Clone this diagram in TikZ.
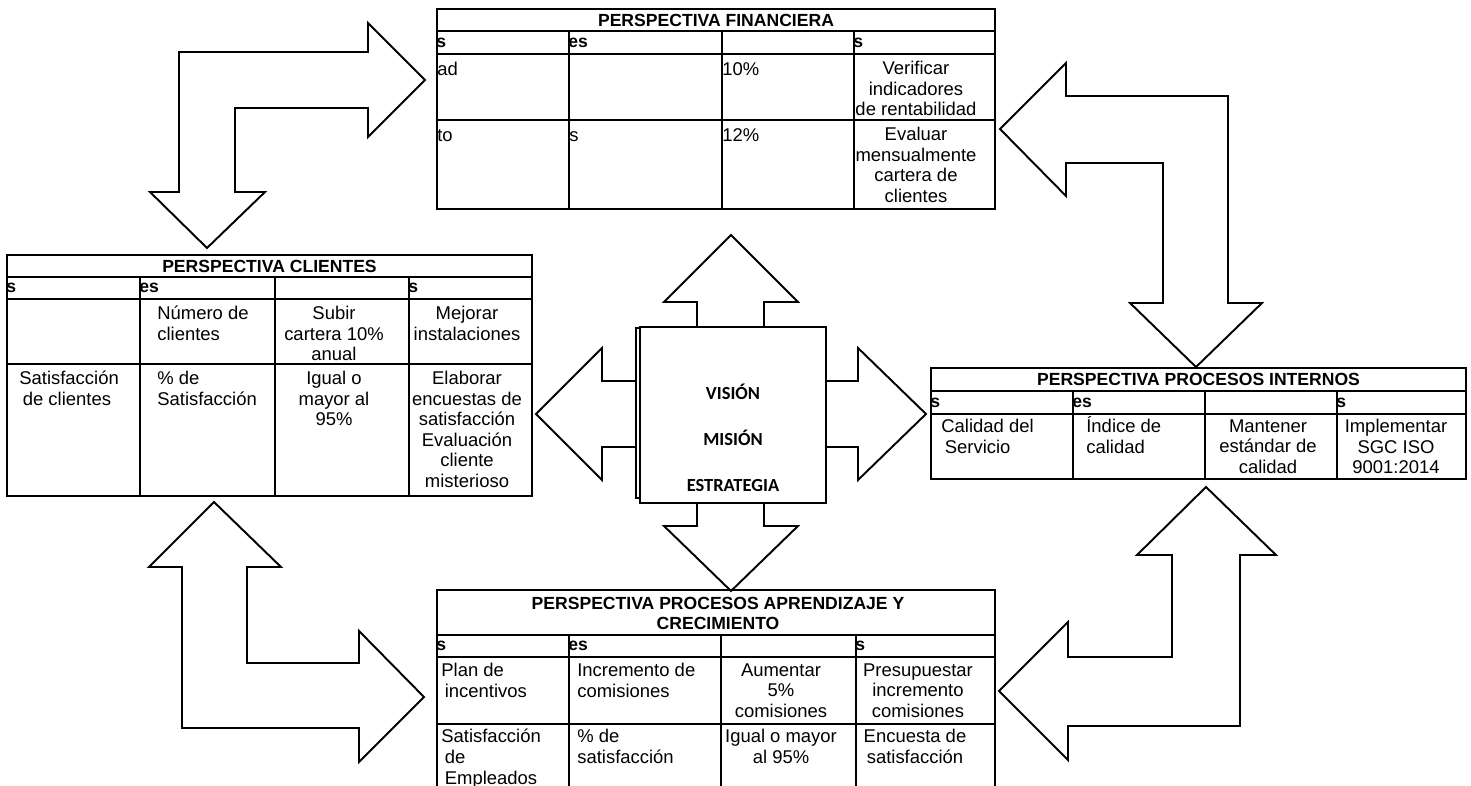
\documentclass[tikz,border=0pt]{standalone}
\usepackage{fontspec}
\setmainfont{Liberation Sans}
\newfontfamily\calfont{Carlito}
\newcommand{\bodysize}{\fontsize{10.5}{11.7}\selectfont}
\newcommand{\headsize}{\fontsize{10}{11.1}\selectfont\bfseries}
\usetikzlibrary{positioning}

\tikzset{
  tline/.style={line width=1pt},
  blk/.style={draw, fill=white, line width=1.1pt, line join=miter},
  ttl/.style={font=\headsize, inner sep=0pt, align=center},
  hdr/.style={font=\headsize, inner sep=0pt, anchor=west},
  ctr/.style={font=\bodysize, inner sep=0pt, align=center, anchor=north, execute at begin node=\strut},
  lft/.style={font=\bodysize, inner sep=0pt, align=left, anchor=north west, execute at begin node=\strut},
  core/.style={font=\calfont\bfseries\fontsize{10.5}{12}\selectfont, inner sep=0pt, anchor=base}
}

\begin{document}
\begin{tikzpicture}[x=0.02cm, y=-0.02cm]
	\useasboundingbox (0,0) rectangle (1471,786);
	% block arrows
	\draw[blk] (179,52) -- (368,52) -- (368,23) -- (425,80) -- (368,137) -- (368,108) -- (235,108) -- (235,192) -- (265,192) -- (207,248) -- (150,192) -- (179,192) -- cycle;%top left
	\draw[blk] (1000,129) -- (1066,63) -- (1066,96) -- (1228,96) -- (1228,303) -- (1262,303) -- (1196,367) -- (1130,303) -- (1163,303) -- (1163,163) -- (1066,163) -- (1066,196) -- cycle;%top right
	\draw[blk] (214,502) -- (281,567) -- (247,567) -- (247,663) -- (359,663) -- (359,631) -- (424,697) -- (359,762) -- (359,728) -- (182,728) -- (182,567) -- (149,567) -- cycle;%bottom left
	\draw[blk] (1206,487) -- (1276,555) -- (1240,555) -- (1240,726) -- (1068,726) -- (1068,760) -- (999,691) -- (1068,622) -- (1068,657) -- (1172,657) -- (1172,555) -- (1137,555) -- cycle;%bottom right
	\draw[blk] (731,235) -- (798,302) -- (764,302) -- (764,381) -- (858,381) -- (858,348) -- (926,414) -- (858,480) -- (858,447) -- (764,447) -- (764,526) -- (798,526) -- (731,591) -- (664,526) -- (697,526) -- (697,447) -- (602,447) -- (602,480) -- (536,414) -- (602,348) -- (602,381) -- (697,381) -- (697,302) -- (664,302) -- cycle;%centre
	\draw[blk, line width=0.8pt] (636,328) rectangle (820,498);
	\draw[blk, line width=0.8pt] (640,327) rectangle (826,503);
	\node[core] (vision) at (733,400) {VISIÓN};
	\node[core] (mision) at (733,446) {MISIÓN};
	\node[core] (estrategia) at (733,492) {ESTRATEGIA};

	% financiera
	\draw[tline] (437,9) rectangle (995,209);
	\draw[tline] (437,31) -- (995,31);
	\draw[tline] (437,54) -- (995,54);
	\draw[tline] (437,120) -- (995,120);
	\draw[tline] (569,31) -- (569,209);
	\draw[tline] (722,31) -- (722,209);
	\draw[tline] (854,31) -- (854,209);
	\node[ttl] (fintitle) at (716,20) {PERSPECTIVA FINANCIERA};
	\node[hdr] (finh1) at (436,42.5) {s};
	\node[hdr] (finh2) at (568,42.5) {es};
	\node[hdr] (finh4) at (853,42.5) {s};
	\node[lft] (fina) at (437,61) {ad};
	\node[lft] (finb) at (722,61) {10\%};
	\node[ctr] (finc) at (916,61) {Verificar\\indicadores\\de rentabilidad};
	\node[lft] (find) at (437,127) {to};
	\node[lft] (fine) at (569,127) {s};
	\node[lft] (finf) at (722,127) {12\%};
	\node[ctr] (fing) at (916,127) {Evaluar\\mensualmente\\cartera de\\clientes};

	% clientes
	\draw[tline] (7,255) rectangle (532,496);
	\draw[tline] (7,277) -- (532,277);
	\draw[tline] (7,299) -- (532,299);
	\draw[tline] (7,364) -- (532,364);
	\draw[tline] (140,277) -- (140,496);
	\draw[tline] (275,277) -- (275,496);
	\draw[tline] (409,277) -- (409,496);
	\node[ttl] (clititle) at (269.5,266) {PERSPECTIVA CLIENTES};
	\node[hdr] (clih1) at (6,288) {s};
	\node[hdr] (clih2) at (139,288) {es};
	\node[hdr] (clih4) at (408,288) {s};
	\node[lft] (clia) at (157,306) {Número de\\clientes};
	\node[ctr] (clib) at (334,306) {Subir\\cartera 10\%\\anual};
	\node[ctr] (clic) at (467,306) {Mejorar\\instalaciones};
	\node[lft] (clid) at (19,371) {Satisfacción\\\hspace*{2pt}de clientes};
	\node[lft] (clie) at (157,371) {\% de\\Satisfacción};
	\node[ctr] (clif) at (334,371) {Igual o\\mayor al\\95\%};
	\node[ctr] (clig) at (467,371) {Elaborar\\encuestas de\\satisfacción\\Evaluación\\cliente\\misterioso};

	% procesos internos
	\draw[tline] (931,368) rectangle (1466,479);
	\draw[tline] (931,391) -- (1466,391);
	\draw[tline] (931,414) -- (1466,414);
	\draw[tline] (1073,391) -- (1073,479);
	\draw[tline] (1205,391) -- (1205,479);
	\draw[tline] (1337,391) -- (1337,479);
	\node[ttl] (inttitle) at (1198.5,379.5) {PERSPECTIVA PROCESOS INTERNOS};
	\node[hdr] (inth1) at (930,402.5) {s};
	\node[hdr] (inth2) at (1072,402.5) {es};
	\node[hdr] (inth4) at (1336,402.5) {s};
	\node[lft] (inta) at (941,419) {Calidad del\\\hspace*{2pt}Servicio};
	\node[lft] (intb) at (1086,419) {\smash{Í}ndice de\\calidad};
	\node[ctr] (intc) at (1268,419) {Mantener\\estándar de\\calidad};
	\node[ctr] (intd) at (1396,419) {Implementar\\SGC ISO\\9001:2014};

	% aprendizaje y crecimiento
	\draw[tline] (437,790) -- (437,590) -- (995,590) -- (995,790);
	\draw[tline] (437,635) -- (995,635);
	\draw[tline] (437,657) -- (995,657);
	\draw[tline] (437,724) -- (995,724);
	\draw[tline] (569,635) -- (569,790);
	\draw[tline] (721,635) -- (721,790);
	\draw[tline] (856,635) -- (856,790);
	\node[ttl] (lrntitle) at (718,613.5) {PERSPECTIVA PROCESOS APRENDIZAJE Y\\CRECIMIENTO};
	\node[hdr] (lrnh1) at (436,646) {s};
	\node[hdr] (lrnh2) at (568,646) {es};
	\node[hdr] (lrnh4) at (855,646) {s};
	\node[lft] (lrna) at (441,663) {Plan de\\\hspace*{2pt}incentivos};
	\node[lft] (lrnb) at (577,663) {Incremento de\\comisiones};
	\node[ctr] (lrnc) at (781,663) {Aumentar\\5\%\\comisiones};
	\node[ctr] (lrnd) at (918,663) {Presupuestar\\incremento\\comisiones};
	\node[lft] (lrne) at (441,729) {Satisfacción\\\hspace*{2pt}de\\\hspace*{2pt}Empleados};
	\node[lft] (lrnf) at (577,729) {\% de\\satisfacción};
	\node[ctr] (lrng) at (781,729) {Igual o mayor\\al 95\%};
	\node[ctr] (lrnh) at (915,729) {Encuesta de\\satisfacción};
\end{tikzpicture}
\end{document}
